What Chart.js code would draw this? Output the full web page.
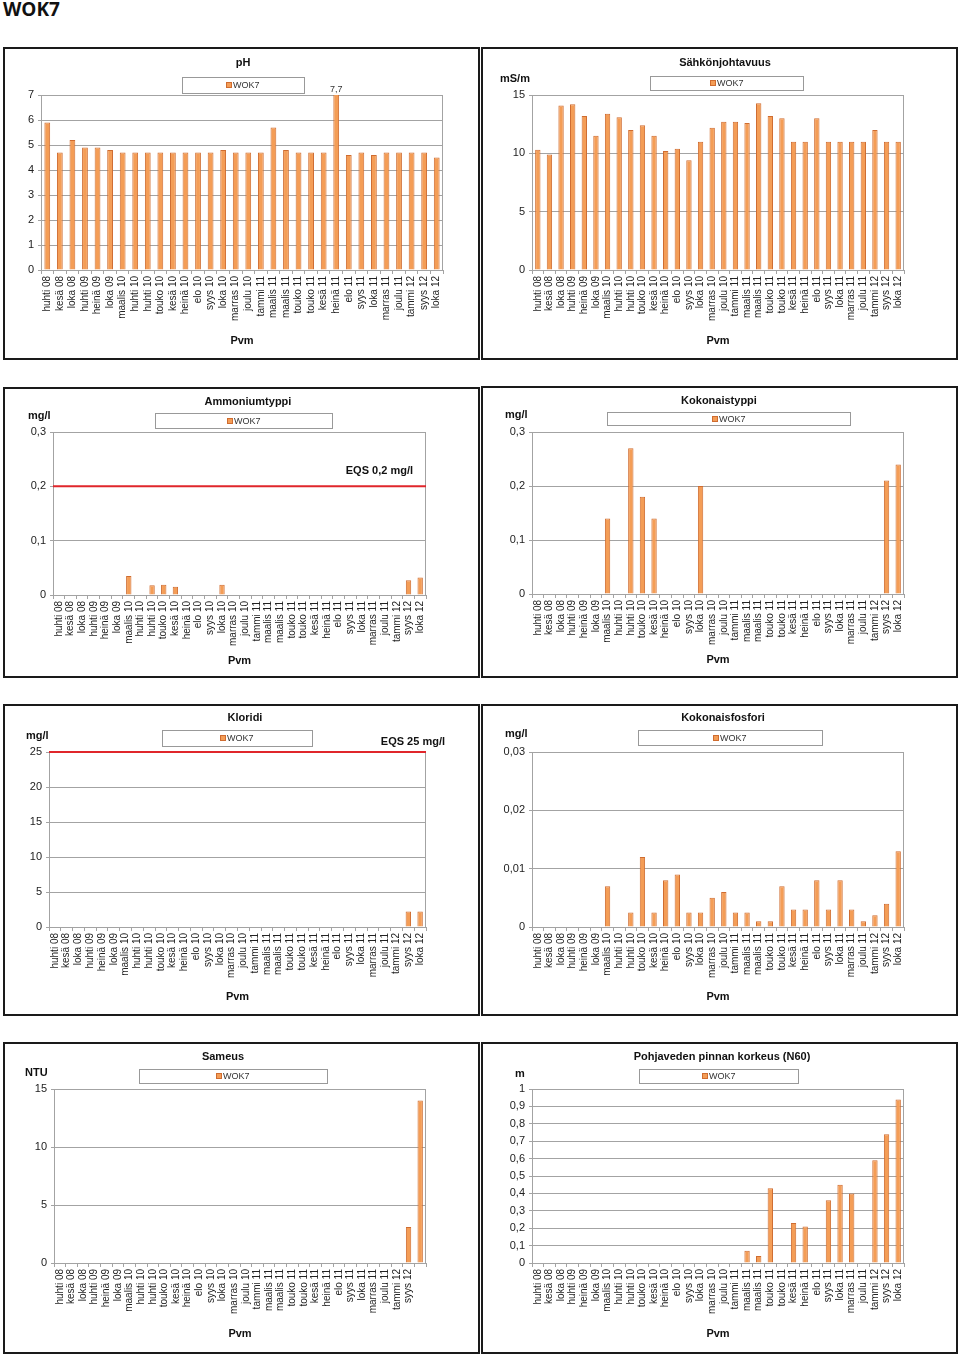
<!DOCTYPE html>
<html>
<head>
<meta charset="utf-8">
<title>WOK7</title>
<script src="https://cdn.jsdelivr.net/npm/chart.js@4.4.1/dist/chart.umd.min.js"></script>
<style>
  body { margin: 0; background: #fff; width: 960px; height: 1357px; position: relative; overflow: hidden; }
  #pageTitle { position: absolute; left: 3px; top: 0; font: bold 19px "Open Sans", sans-serif; line-height: 1; color: #111; }
  .panel { position: absolute; box-sizing: border-box; border: 2px solid #1a1a1a; background: #fff; }
  .panel .wrap { position: absolute; left: 0; top: 0; right: 0; bottom: 0; }
</style>
</head>
<body>
<div id="pageTitle">WOK7</div>

<script>
// sampling dates (same for every chart)
const months = ['huhti 08', 'kesä 08', 'loka 08', 'huhti 09', 'heinä 09', 'loka 09', 'maalis 10', 'huhti 10',
  'huhti 10', 'touko 10', 'kesä 10', 'heinä 10', 'elo 10', 'syys 10', 'loka 10', 'marras 10', 'joulu 10',
  'tammi 11', 'maalis 11', 'maalis 11', 'touko 11', 'touko 11', 'kesä 11', 'heinä 11', 'elo 11', 'syys 11',
  'loka 11', 'marras 11', 'joulu 11', 'tammi 12', 'syys 12', 'loka 12'];
// the turbidity chart has no label under its last bar
const turbidityMonths = months.slice(0, 31).concat(['']);

const seriesName = 'WOK7';

const phValues = [5.9, 4.7, 5.2, 4.9, 4.9, 4.8, 4.7, 4.7, 4.7, 4.7, 4.7, 4.7, 4.7, 4.7, 4.8, 4.7,
  4.7, 4.7, 5.7, 4.8, 4.7, 4.7, 4.7, 7.7, 4.6, 4.7, 4.6, 4.7, 4.7, 4.7, 4.7, 4.5];

const conductivity = [10.3, 9.9, 14.1, 14.2, 13.2, 11.5, 13.4, 13.1, 12.0, 12.4, 11.5, 10.2, 10.4, 9.4, 11.0, 12.2,
  12.7, 12.7, 12.6, 14.3, 13.2, 13.0, 11.0, 11.0, 13.0, 11.0, 11.0, 11.0, 11.0, 12.0, 11.0, 11.0];

const ammonium = [null, null, null, null, null, null, 0.035, null, 0.018, 0.019, 0.015, null, null, null, 0.019, null,
  null, null, null, null, null, null, null, null, null, null, null, null, null, null, 0.027, 0.032];

const totalNitrogen = [null, null, null, null, null, null, 0.14, null, 0.27, 0.18, 0.14, null, null, null, 0.2, null,
  null, null, null, null, null, null, null, null, null, null, null, null, null, null, 0.21, 0.24];

const chloride = [null, null, null, null, null, null, null, null, null, null, null, null, null, null, null, null,
  null, null, null, null, null, null, null, null, null, null, null, null, null, null, 2.2, 2.2];

const totalPhosphorus = [null, null, null, null, null, null, 0.007, null, 0.0025, 0.012, 0.0025, 0.008, 0.009, 0.0025, 0.0025, 0.005,
  0.006, 0.0025, 0.0025, 0.001, 0.001, 0.007, 0.003, 0.003, 0.008, 0.003, 0.008, 0.003, 0.001, 0.002, 0.004, 0.013];

const turbidity = [null, null, null, null, null, null, null, null, null, null, null, null, null, null, null, null,
  null, null, null, null, null, null, null, null, null, null, null, null, null, null, 3.1, 14];

const groundwaterLevel = [null, null, null, null, null, null, null, null, null, null, null, null, null, null, null, null,
  null, null, 0.07, 0.04, 0.43, null, 0.23, 0.21, null, 0.36, 0.45, 0.40, null, 0.59, 0.74, 0.94];

const ammoniumEqs = 0.2;
const chlorideEqs = 25;

const FONT = '"Liberation Sans", Arial, sans-serif';
const BAR_FILL = '#f49d56';
const BAR_EDGE = '#cf6c30';
const GRID = '#a3a3a3';

const fmt = v => Number(v.toFixed(4)).toString().replace('.', ',');

// panel layout, page pixel coordinates
const panels = [
  { id: 'ph', box: [3, 47, 477, 313], plot: [41, 95, 443, 270], labels: months, data: phValues,
    title: ['pH', 243, 63], legend: [182, 77, 304, 93], pvmY: 341, max: 7, step: 1, overflow: true },
  { id: 'sahko', box: [481, 47, 477, 313], plot: [532, 95, 904, 270], labels: months, data: conductivity,
    title: ['Sähkönjohtavuus', 725, 63], legend: [650, 76, 803, 90], unit: ['mS/m', 500, 79], pvmY: 341, max: 15, step: 5 },
  { id: 'nh4', box: [3, 387, 477, 291], plot: [53, 432, 426, 595], labels: months, data: ammonium,
    title: ['Ammoniumtyppi', 248, 402], legend: [155, 413, 332, 428], unit: ['mg/l', 28, 416], pvmY: 661, max: 0.3, step: 0.1,
    eqs: [ammoniumEqs, 'EQS 0,2 mg/l', 413, 471] },
  { id: 'ntot', box: [481, 386, 477, 292], plot: [532, 432, 904, 594], labels: months, data: totalNitrogen,
    title: ['Kokonaistyppi', 719, 401], legend: [607, 412, 850, 425], unit: ['mg/l', 505, 415], pvmY: 660, max: 0.3, step: 0.1 },
  { id: 'cl', box: [3, 704, 477, 312], plot: [49, 752, 426, 927], labels: months, data: chloride,
    title: ['Kloridi', 245, 718], legend: [162, 730, 312, 746], unit: ['mg/l', 26, 736], pvmY: 997, max: 25, step: 5,
    eqs: [chlorideEqs, 'EQS 25 mg/l', 445, 742] },
  { id: 'ptot', box: [481, 704, 477, 312], plot: [532, 752, 904, 927], labels: months, data: totalPhosphorus,
    title: ['Kokonaisfosfori', 723, 718], legend: [638, 730, 822, 745], unit: ['mg/l', 505, 734], pvmY: 997, max: 0.03, step: 0.01 },
  { id: 'sameus', box: [3, 1042, 477, 312], plot: [54, 1089, 426, 1263], labels: turbidityMonths, data: turbidity,
    title: ['Sameus', 223, 1057], legend: [139, 1069, 327, 1083], unit: ['NTU', 25, 1073], pvmY: 1334, max: 15, step: 5 },
  { id: 'pinta', box: [481, 1042, 477, 312], plot: [532, 1089, 904, 1263], labels: months, data: groundwaterLevel,
    title: ['Pohjaveden pinnan korkeus (N60)', 722, 1057], legend: [639, 1069, 798, 1083], unit: ['m', 515, 1074], pvmY: 1334, max: 1, step: 0.1 }
];

// title, legend box, unit, EQS line and clipped value labels
const decor = {
  id: 'decor',
  afterDraw(chart, args, o) {
    const { ctx, chartArea: a } = chart;
    const y = chart.scales.y;
    const ox = o.ox, oy = o.oy;
    ctx.save();

    ctx.strokeStyle = GRID;
    ctx.lineWidth = 1;
    ctx.beginPath();
    ctx.moveTo(Math.round(a.right) - 0.5, a.top);
    ctx.lineTo(Math.round(a.right) - 0.5, a.bottom);
    ctx.stroke();

    if (o.eqs) {
      const py = y.getPixelForValue(o.eqs[0]);
      ctx.strokeStyle = '#e0262b';
      ctx.lineWidth = 2;
      ctx.beginPath();
      ctx.moveTo(a.left, py);
      ctx.lineTo(a.right, py);
      ctx.stroke();
      ctx.font = 'bold 11px ' + FONT;
      ctx.fillStyle = '#111';
      ctx.textAlign = 'right';
      ctx.textBaseline = 'middle';
      ctx.fillText(o.eqs[1], o.eqs[2] - ox, o.eqs[3] - oy);
    }

    ctx.font = 'bold 11px ' + FONT;
    ctx.fillStyle = '#111';
    ctx.textAlign = 'center';
    ctx.textBaseline = 'middle';
    ctx.fillText(o.title[0], o.title[1] - ox, o.title[2] - oy);

    if (o.unit) {
      ctx.textAlign = 'left';
      ctx.fillText(o.unit[0], o.unit[1] - ox, o.unit[2] - oy);
    }

    const [lx0, ly0, lx1, ly1] = o.legend;
    ctx.fillStyle = '#fff';
    ctx.fillRect(lx0 - ox, ly0 - oy, lx1 - lx0, ly1 - ly0);
    ctx.strokeStyle = '#999';
    ctx.lineWidth = 1;
    ctx.strokeRect(lx0 - ox + 0.5, ly0 - oy + 0.5, lx1 - lx0, ly1 - ly0);
    const label = chart.data.datasets[0].label;
    ctx.font = '9px ' + FONT;
    const tw = ctx.measureText(label).width;
    const sq = 6;
    let sx = Math.round((lx0 + lx1) / 2 - ox - (sq + 1 + tw) / 2);
    const cy = Math.round((ly0 + ly1) / 2 - oy);
    ctx.fillStyle = BAR_FILL;
    ctx.fillRect(sx, cy - 3, sq, sq);
    ctx.strokeStyle = BAR_EDGE;
    ctx.strokeRect(sx + 0.5, cy - 2.5, sq - 1, sq - 1);
    ctx.fillStyle = '#333';
    ctx.textAlign = 'left';
    ctx.fillText(label, sx + sq + 1, cy + 0.5);

    if (o.overflow) {
      const vals = chart.data.datasets[0].data;
      chart.getDatasetMeta(0).data.forEach((bar, i) => {
        if (vals[i] != null && vals[i] > y.max) {
          ctx.font = '9px ' + FONT;
          ctx.fillStyle = '#333';
          ctx.textAlign = 'center';
          ctx.textBaseline = 'bottom';
          ctx.fillText(fmt(vals[i]), bar.x, a.top - 1);
        }
      });
    }
    ctx.restore();
  }
};

function buildChart(p) {
  const [bx, by, bw, bh] = p.box;
  const div = document.createElement('div');
  div.className = 'panel';
  div.style.left = bx + 'px';
  div.style.top = by + 'px';
  div.style.width = bw + 'px';
  div.style.height = bh + 'px';
  const wrap = document.createElement('div');
  wrap.className = 'wrap';
  const canvas = document.createElement('canvas');
  canvas.id = p.id;
  wrap.appendChild(canvas);
  div.appendChild(wrap);
  document.body.appendChild(div);

  const ox = bx + 2, oy = by + 2;
  const cw = bw - 4, ch = bh - 4;
  const [pl, pt, pr, pb] = p.plot;
  const xHeight = oy + ch - pb;
  const pvmPad = oy + ch - p.pvmY - 11 * 1.2 / 2;

  return new Chart(canvas, {
    type: 'bar',
    data: {
      labels: p.labels,
      datasets: [{
        label: seriesName,
        data: p.data,
        backgroundColor: BAR_FILL,
        borderColor: BAR_EDGE,
        borderWidth: 1,
        barPercentage: 0.46,
        categoryPercentage: 1
      }]
    },
    options: {
      responsive: true,
      maintainAspectRatio: false,
      animation: false,
      layout: { padding: { left: 0, top: pt - oy, right: ox + cw - pr, bottom: 0 } },
      plugins: {
        legend: { display: false },
        title: { display: false },
        tooltip: { enabled: false },
        decor: { ox: ox, oy: oy, title: p.title, legend: p.legend, unit: p.unit, eqs: p.eqs, overflow: p.overflow }
      },
      scales: {
        x: {
          offset: true,
          grid: { display: true, drawOnChartArea: false, drawTicks: true, tickLength: 4, color: GRID, offset: true },
          border: { color: GRID },
          ticks: {
            autoSkip: false, minRotation: 90, maxRotation: 90, padding: 2,
            color: '#222', font: { family: FONT, size: 10 }
          },
          title: {
            display: true, text: 'Pvm', color: '#111',
            font: { family: FONT, size: 11, weight: 'bold' },
            padding: { top: 0, bottom: pvmPad }
          },
          afterFit: scale => { scale.height = xHeight; }
        },
        y: {
          min: 0,
          max: p.max,
          grid: { color: GRID, tickLength: 3 },
          border: { color: GRID },
          ticks: {
            stepSize: p.step, padding: 4, color: '#222',
            font: { family: FONT, size: 11 },
            callback: v => fmt(v)
          },
          afterFit: scale => { scale.width = pl - ox; }
        }
      }
    },
    plugins: [decor]
  });
}

panels.forEach(buildChart);
</script>
</body>
</html>
